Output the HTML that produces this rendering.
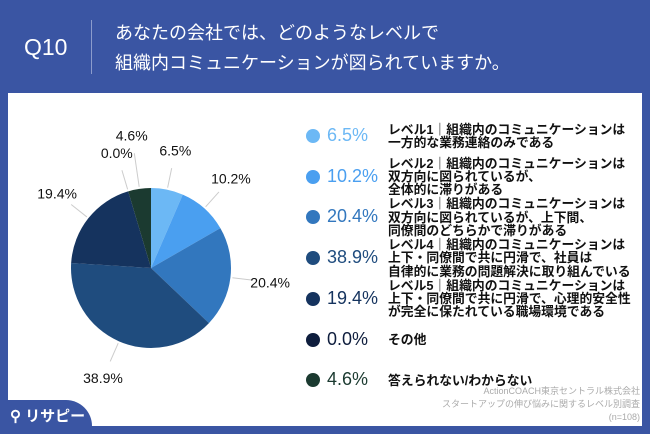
<!DOCTYPE html>
<html><head><meta charset="utf-8"><style>
body{margin:0;width:650px;height:434px;overflow:hidden;background:#3a55a3;font-family:"Liberation Sans","Noto Sans CJK JP",sans-serif;}
#wrap{position:relative;width:650px;height:434px;}
.hdr{position:absolute;color:#fff;}
#panel{position:absolute;left:8px;top:93px;width:634px;height:333px;background:#fff;}
.dot{position:absolute;left:306px;width:14px;height:14px;border-radius:50%;}
.pct{position:absolute;left:327px;font-size:18px;}
.lab{position:absolute;left:388px;font-size:12.8px;font-weight:bold;line-height:13.3px;color:#111;white-space:nowrap;}
.src{position:absolute;right:10px;color:#aaa;font-size:9px;text-align:right;line-height:13px;}
</style></head><body>
<div id="wrap">
<div class="hdr" style="left:24px;top:34px;font-size:23px;">Q10</div>
<div style="position:absolute;left:91px;top:20px;width:1px;height:54px;background:#8c9ccc;"></div>
<div class="hdr" style="left:115px;top:18px;font-size:18px;line-height:30px;">あなたの会社では、どのようなレベルで<br>組織内コミュニケーションが図られていますか。</div>
<div id="panel"></div>
<svg id="pie" width="650" height="434" style="position:absolute;left:0;top:0;"></svg>
<div style="position:absolute;left:0;top:400px;width:92px;height:34px;background:#3a55a3;border-top-right-radius:26px;"></div>
<div style="position:absolute;left:10px;top:405px;color:#fff;font-size:15px;font-weight:bold;">⚲ リサピー</div>
<div id="legend"></div>
<div class="src" style="top:385px;">ActionCOACH東京セントラル株式会社<br>スタートアップの伸び悩みに関するレベル別調査<br>(n=108)</div>
</div>
<script>
const categories=["レベル1｜組織内のコミュニケーションは<br>一方的な業務連絡のみである","レベル2｜組織内のコミュニケーションは<br>双方向に図られているが、<br>全体的に滞りがある","レベル3｜組織内のコミュニケーションは<br>双方向に図られているが、上下間、<br>同僚間のどちらかで滞りがある","レベル4｜組織内のコミュニケーションは<br>上下・同僚間で共に円滑で、社員は<br>自律的に業務の問題解決に取り組んでいる","レベル5｜組織内のコミュニケーションは<br>上下・同僚間で共に円滑で、心理的安全性<br>が完全に保たれている職場環境である","その他","答えられない/わからない"];
const values=[6.5,10.2,20.4,38.9,19.4,0.0,4.6];
const colors=["#6cb8f5","#4a9ff0","#3277be","#1f4c7e","#15335e","#0e1d3d","#1b3a30"];
const cx=151,cy=268,R=80;
const svg=document.getElementById('pie');
const NS="http://www.w3.org/2000/svg";
const total=values.reduce((a,b)=>a+b,0);
function pt(a,r){return [cx+r*Math.sin(a),cy-r*Math.cos(a)];}
let acc=0,prevMid=-10;
values.forEach((v,i)=>{
  const a0=acc/total*2*Math.PI;acc+=v;const a1=acc/total*2*Math.PI;
  if(v>0){
    const p0=pt(a0,R),p1=pt(a1,R);
    const path=document.createElementNS(NS,'path');
    path.setAttribute('d',`M${cx},${cy}L${p0[0]},${p0[1]}A${R},${R} 0 ${a1-a0>Math.PI?1:0} 1 ${p1[0]},${p1[1]}Z`);
    path.setAttribute('fill',colors[i]);
    
    
    svg.appendChild(path);
  }
  const m=(a0+a1)/2;
  let lr=120; if(Math.abs(m-prevMid)<0.2) lr=134; prevMid=m;
  const q0=pt(m,R+2),q1=pt(m,lr-18);
  const ln=document.createElementNS(NS,'line');
  ln.setAttribute('x1',q0[0]);ln.setAttribute('y1',q0[1]);ln.setAttribute('x2',q1[0]);ln.setAttribute('y2',q1[1]);
  ln.setAttribute('stroke','#ccc');ln.setAttribute('stroke-width','1');
  
  
  svg.appendChild(ln);
  const lp=pt(m,lr);
  const t=document.createElementNS(NS,'text');
  t.setAttribute('x',lp[0]);t.setAttribute('y',lp[1]+5);t.setAttribute('text-anchor','middle');
  t.setAttribute('font-size','14');t.setAttribute('fill','#111');
  t.setAttribute('font-family','Liberation Sans, sans-serif');
  t.textContent=v.toFixed(1)+'%';
  
  
  svg.appendChild(t);
});
const leg=document.getElementById('legend');
categories.forEach((c,i)=>{
  const y=136+i*40.7;
  const d=document.createElement('div');
  d.className='dot';d.style.top=(y-7)+'px';d.style.background=colors[i];
  
  
  leg.appendChild(d);
  const p=document.createElement('div');
  p.className='pct';p.style.top=(y-11)+'px';p.style.color=colors[i];p.textContent=values[i].toFixed(1)+'%';
  
  
  leg.appendChild(p);
  const l=document.createElement('div');
  l.className='lab';l.innerHTML=c;
  const lines=c.split('<br>').length;
  l.style.top=(y-lines*6.65)+'px';
  
  
  leg.appendChild(l);
});
</script>
</body></html>
